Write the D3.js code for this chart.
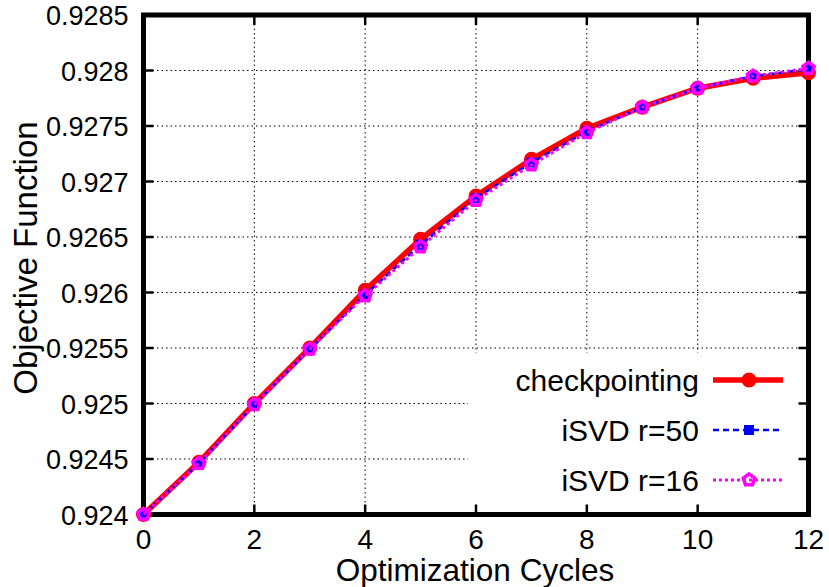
<!DOCTYPE html>
<html>
<head>
<meta charset="utf-8">
<script src="https://cdn.jsdelivr.net/npm/d3@7"></script>
<style>
  body { margin: 0; background: #fff; }
  svg { display: block; font-family: "Liberation Sans", Arial, sans-serif; }
</style>
</head>
<body>
<svg id="chart" width="829" height="587"></svg>
<script>
// data
var cycles = [0, 1, 2, 3, 4, 5, 6, 7, 8, 9, 10, 11, 12];
var checkpointing = [0.92400, 0.92447, 0.92500, 0.92550, 0.92602, 0.92648, 0.92687, 0.92720, 0.92748, 0.92767, 0.92784, 0.92793, 0.92798];
var isvd50 = [0.92400, 0.92446, 0.92499, 0.92549, 0.92598, 0.92643, 0.92685, 0.92717, 0.92745, 0.92767, 0.92784, 0.92795, 0.92801];
var isvd16 = [0.92400, 0.92446, 0.92499, 0.92549, 0.92597, 0.92641, 0.92683, 0.92715, 0.92744, 0.92767, 0.92784, 0.92795, 0.92802];
var xTicks = [0, 2, 4, 6, 8, 10, 12];
var yTicks = [0.924, 0.9245, 0.925, 0.9255, 0.926, 0.9265, 0.927, 0.9275, 0.928, 0.9285];
var seriesNames = ["checkpointing", "iSVD r=50", "iSVD r=16"];

var pLeft = 143.5, pRight = 808.5, pTop = 15, pBottom = 514.5;

var svg = d3.select("#chart");

var x = d3.scaleLinear().domain([0, 12]).range([pLeft, pRight]);
var y = d3.scaleLinear().domain([0.924, 0.9285]).range([pBottom, pTop]);

//Grid
var grid = svg.append("g");
grid.selectAll(".vg")
    .data(xTicks.slice(1, -1))
    .enter()
    .append("line")
    .attr("x1", d => x(d)).attr("x2", d => x(d))
    .attr("y1", pTop).attr("y2", pBottom)
    .attr("stroke", "#000").attr("stroke-width", 1)
    .attr("stroke-dasharray", "1.5,3");
grid.selectAll(".hg")
    .data(yTicks.slice(1, -1))
    .enter()
    .append("line")
    .attr("x1", pLeft).attr("x2", pRight)
    .attr("y1", d => y(d)).attr("y2", d => y(d))
    .attr("stroke", "#000").attr("stroke-width", 1)
    .attr("stroke-dasharray", "1.5,3");

//Legend background hides the grid behind it
svg.append("rect")
    .attr("x", 468).attr("y", 353)
    .attr("width", pRight - 468).attr("height", pBottom - 353)
    .attr("fill", "#fff");

//Ticks (inward, mirrored)
var tickLen = 10;
var ticks = svg.append("g").attr("stroke", "#000").attr("stroke-width", 2.5);
xTicks.forEach(d => {
    ticks.append("line").attr("x1", x(d)).attr("x2", x(d)).attr("y1", pBottom).attr("y2", pBottom - tickLen);
    ticks.append("line").attr("x1", x(d)).attr("x2", x(d)).attr("y1", pTop).attr("y2", pTop + tickLen);
});
yTicks.forEach(d => {
    ticks.append("line").attr("x1", pLeft).attr("x2", pLeft + tickLen).attr("y1", y(d)).attr("y2", y(d));
    ticks.append("line").attr("x1", pRight).attr("x2", pRight - tickLen).attr("y1", y(d)).attr("y2", y(d));
});

//Frame
svg.append("rect")
    .attr("x", pLeft).attr("y", pTop)
    .attr("width", pRight - pLeft).attr("height", pBottom - pTop)
    .attr("fill", "none").attr("stroke", "#000").attr("stroke-width", 5);

//Tick labels
svg.append("g").selectAll("text")
    .data(xTicks)
    .enter()
    .append("text")
    .attr("x", d => x(d))
    .attr("y", pBottom + 34)
    .attr("text-anchor", "middle")
    .attr("font-size", 28)
    .text(d => d);

svg.append("g").selectAll("text")
    .data(yTicks)
    .enter()
    .append("text")
    .attr("x", pLeft - 15)
    .attr("y", d => y(d) + 10)
    .attr("text-anchor", "end")
    .attr("font-size", 27)
    .text(d => d3.format("")(d));

//Axis titles
svg.append("text")
    .attr("x", 475)
    .attr("y", 581)
    .attr("text-anchor", "middle")
    .attr("font-size", 31.5)
    .text("Optimization Cycles");

svg.append("text")
    .attr("transform", "translate(37,258) rotate(-90)")
    .attr("text-anchor", "middle")
    .attr("font-size", 33)
    .text("Objective Function");

//Series
var styles = [
    {data: checkpointing, color: "#ff0000", width: 5.5, dash: null, marker: "circle"},
    {data: isvd50, color: "#0000ff", width: 2.5, dash: "6,4", marker: "square"},
    {data: isvd16, color: "#ff00ff", width: 3, dash: "3,3", marker: "pentagon"}
];

var line = d3.line().x(d => x(d[0])).y(d => y(d[1]));

function drawMarker(g, kind, color, cx, cy) {
    if (kind === "circle") {
        g.append("circle").attr("cx", cx).attr("cy", cy).attr("r", 7.5).attr("fill", color);
    } else if (kind === "square") {
        g.append("rect").attr("x", cx - 5).attr("y", cy - 5).attr("width", 10).attr("height", 10).attr("fill", color);
    } else {
        var pts = d3.range(5).map(i => {
            var a = -Math.PI / 2 + i * 2 * Math.PI / 5;
            return [cx + 6 * Math.cos(a), cy + 6 * Math.sin(a)];
        });
        g.append("polygon")
            .attr("points", pts.map(p => p.join(",")).join(" "))
            .attr("fill", "none").attr("stroke", color).attr("stroke-width", 3.5);
    }
}

styles.forEach(s => {
    var pts = cycles.map((c, i) => [c, s.data[i]]);
    var g = svg.append("g");
    g.append("path")
        .attr("d", line(pts))
        .attr("fill", "none")
        .attr("stroke", s.color)
        .attr("stroke-width", s.width)
        .attr("stroke-dasharray", s.dash);
    pts.forEach(p => drawMarker(g, s.marker, s.color, x(p[0]), y(p[1])));
});

//Legend
var legendRows = [380, 430, 480];
styles.forEach((s, i) => {
    var g = svg.append("g");
    g.append("text")
        .attr("x", 699)
        .attr("y", legendRows[i] + 11)
        .attr("text-anchor", "end")
        .attr("font-size", 30)
        .text(seriesNames[i]);
    g.append("line")
        .attr("x1", 713).attr("x2", 783)
        .attr("y1", legendRows[i]).attr("y2", legendRows[i])
        .attr("stroke", s.color)
        .attr("stroke-width", s.width)
        .attr("stroke-dasharray", s.dash);
    drawMarker(g, s.marker, s.color, 749, legendRows[i]);
});
</script>
</body>
</html>
